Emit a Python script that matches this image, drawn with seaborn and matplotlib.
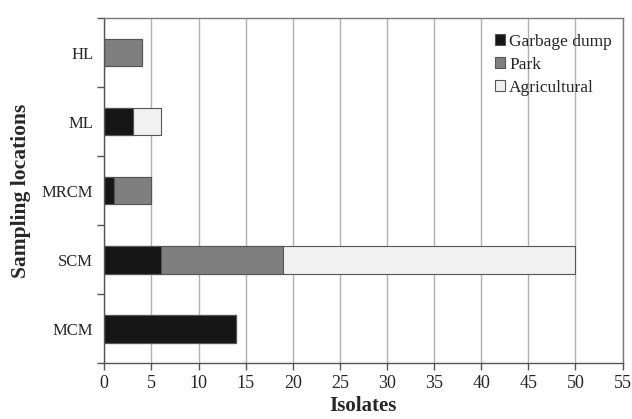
import numpy as np
import pandas as pd
import seaborn as sns
import matplotlib.pyplot as plt
from matplotlib.patches import Patch

# data
locations = ["HL", "ML", "MRCM", "SCM", "MCM"]
garbage = [0, 3, 1, 6, 14]
park = [4, 0, 4, 13, 0]
agricultural = [0, 3, 0, 31, 0]

colors = {"Garbage dump": "#161616", "Park": "#7f7f7f", "Agricultural": "#f1f1f1"}

g = np.array(garbage)
gp = g + np.array(park)
total = gp + np.array(agricultural)
df = pd.DataFrame({"loc": locations, "g": g, "gp": gp, "total": total})

sns.set_theme(style="white")
plt.rcParams["font.family"] = ["Liberation Serif", "DejaVu Serif"]

fig = plt.figure(figsize=(6.32, 4.19), dpi=100)
ax = fig.add_axes([0.165, 0.133, 0.820, 0.824])

# stacked bars drawn as overlapping cumulative totals
for col, name in [("total", "Agricultural"), ("gp", "Park"), ("g", "Garbage dump")]:
    sns.barplot(data=df, x=col, y="loc", order=locations, orient="h",
                color=colors[name], edgecolor="#555555", linewidth=0.8,
                width=0.4, saturation=1, ax=ax)

ax.set_xlim(0, 55)
ax.set_xticks(range(0, 56, 5))
ax.set_ylim(4.5, -0.5)
ax.set_axisbelow(True)
ax.xaxis.grid(True, color="#b0b0b0", linewidth=1)
ax.yaxis.grid(False)

ax.set_yticks(np.arange(-0.5, 5, 1), minor=True)
ax.tick_params(axis="y", which="major", length=0, labelsize=12, pad=8)
ax.tick_params(axis="y", which="minor", length=5, width=1, color="#555555", direction="out", left=True)
ax.tick_params(axis="x", which="major", length=5, width=1, color="#555555", direction="out",
               bottom=True, labelsize=13)

for s in ax.spines.values():
    s.set_color("#7a7a7a")
    s.set_linewidth(1)
ax.spines["left"].set_color("#555555")
ax.spines["bottom"].set_color("#555555")

ax.set_xlabel("Isolates", fontsize=15, fontweight="bold", labelpad=3)
ax.set_ylabel("Sampling locations", fontsize=15.5, fontweight="bold", labelpad=8)

handles = [Patch(facecolor=colors[n], edgecolor="#555555", linewidth=0.8, label=n)
           for n in ["Garbage dump", "Park", "Agricultural"]]
ax.legend(handles=handles, loc="upper right", bbox_to_anchor=(1.01, 1.0), frameon=False,
          fontsize=12.5, handlelength=0.6, handleheight=0.6, handletextpad=0.25,
          labelspacing=0.4, borderaxespad=0.5)

fig.savefig("out.png", dpi=100)
